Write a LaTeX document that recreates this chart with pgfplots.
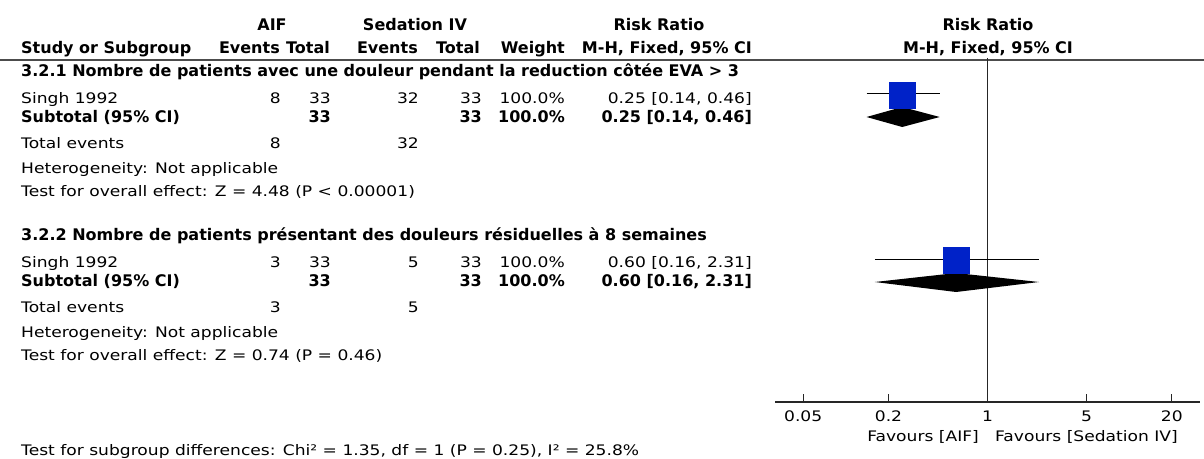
\documentclass[border=0pt]{standalone}
\usepackage{pgfplots}
\pgfplotsset{compat=1.18}
\usepackage{fontspec}
\setmainfont{DejaVu Sans}
\newfontfamily\rg{DejaVu Sans}[FakeStretch=1.18]
\newcommand\R{\rg\fontsize{14.5bp}{17bp}\selectfont}
\newcommand\B{\normalfont\bfseries\fontsize{16bp}{18bp}\selectfont}
\definecolor{boxblue}{RGB}{0,34,200}
\newcommand\tx[4]{\node[anchor=#1,inner sep=0pt] at (#2bp,-#3bp) {#4};}
\begin{document}
\begin{tikzpicture}
\useasboundingbox (0,0) rectangle (1204bp,-459bp);
% header
\tx{base}{272}{30}{\B AIF}
\tx{base}{415}{30}{\B Sedation IV}
\tx{base}{659}{30}{\B Risk Ratio}
\tx{base}{988}{30}{\B Risk Ratio}
\tx{base west}{21}{53}{\B Study or Subgroup}
\tx{base east}{280}{53}{\B Events}
\tx{base east}{330}{53}{\B Total}
\tx{base east}{418}{53}{\B Events}
\tx{base east}{480}{53}{\B Total}
\tx{base east}{565}{53}{\B Weight}
\tx{base east}{752}{53}{\B M-H, Fixed, 95\% CI}
\tx{base}{988}{53}{\B M-H, Fixed, 95\% CI}
\draw[line width=2bp, black!70] (0,-59.5bp) -- (1204bp,-59.5bp);
% group 1
\tx{base west}{21}{76}{\B 3.2.1 Nombre de patients avec une douleur pendant la reduction côtée EVA > 3}
\tx{base west}{21}{103}{\R Singh 1992}
\tx{base east}{281}{103}{\R 8}
\tx{base east}{331}{103}{\R 33}
\tx{base east}{419}{103}{\R 32}
\tx{base east}{482}{103}{\R 33}
\tx{base east}{565}{103}{\R 100.0\%}
\tx{base east}{752}{103}{\R 0.25 [0.14, 0.46]}
\tx{base west}{21}{122}{\B Subtotal (95\% CI)}
\tx{base east}{331}{122}{\B 33}
\tx{base east}{482}{122}{\B 33}
\tx{base east}{565}{122}{\B 100.0\%}
\tx{base east}{752}{122}{\B 0.25 [0.14, 0.46]}
\tx{base west}{21}{148}{\R Total events}
\tx{base east}{281}{148}{\R 8}
\tx{base east}{419}{148}{\R 32}
\tx{base west}{21}{173}{\R Heterogeneity: Not applicable}
\tx{base west}{21}{196}{\R Test for overall effect: Z = 4.48 (P < 0.00001)}
% group 2
\tx{base west}{21}{240}{\B 3.2.2 Nombre de patients présentant des douleurs résiduelles à 8 semaines}
\tx{base west}{21}{267}{\R Singh 1992}
\tx{base east}{281}{267}{\R 3}
\tx{base east}{331}{267}{\R 33}
\tx{base east}{419}{267}{\R 5}
\tx{base east}{482}{267}{\R 33}
\tx{base east}{565}{267}{\R 100.0\%}
\tx{base east}{752}{267}{\R 0.60 [0.16, 2.31]}
\tx{base west}{21}{286}{\B Subtotal (95\% CI)}
\tx{base east}{331}{286}{\B 33}
\tx{base east}{482}{286}{\B 33}
\tx{base east}{565}{286}{\B 100.0\%}
\tx{base east}{752}{286}{\B 0.60 [0.16, 2.31]}
\tx{base west}{21}{312}{\R Total events}
\tx{base east}{281}{312}{\R 3}
\tx{base east}{419}{312}{\R 5}
\tx{base west}{21}{337}{\R Heterogeneity: Not applicable}
\tx{base west}{21}{360}{\R Test for overall effect: Z = 0.74 (P = 0.46)}
\tx{base west}{21}{455}{\R Test for subgroup differences: Chi² = 1.35, df = 1 (P = 0.25), I² = 25.8\%}
\tx{base east}{979}{441}{\R Favours [AIF]}
\tx{base west}{995}{441}{\R Favours [Sedation IV]}
\begin{axis}[
  at={(775bp,-402bp)}, anchor=south west,
  width=425bp, height=344bp, scale only axis,
  xmode=log, xmin=0.0316228, xmax=31.6228,
  ymin=-402, ymax=-58,
  axis y line=none, axis x line*=bottom,
  x axis line style={line width=1.2bp, black!85},
  xtick={0.05,0.2,1,5,20}, xticklabels={0.05,0.2,1,5,20},
  xminorticks=false,
  tick align=inside, major tick length=8bp,
  tick style={line width=1bp, black!85},
  xticklabel style={font=\R, anchor=base, yshift=-19bp},
  clip=false,
]
\addplot[black!85, line width=1.2bp] coordinates {(1,-58) (1,-402)};
\addplot[black, line width=1bp] coordinates {(0.14,-94) (0.46,-94)};
\addplot[black, line width=1bp] coordinates {(0.16,-259) (2.31,-259)};
\addplot[only marks, mark=square*, mark size=13bp, mark options={fill=boxblue, draw=boxblue}] coordinates {(0.25,-95) (0.60,-260)};
\addplot[fill=black, draw=none] coordinates {(0.14,-117) (0.25,-107) (0.46,-117) (0.25,-127)};
\addplot[fill=black, draw=none] coordinates {(0.16,-282) (0.60,-273) (2.31,-282) (0.60,-292)};
\end{axis}
\end{tikzpicture}
\end{document}
